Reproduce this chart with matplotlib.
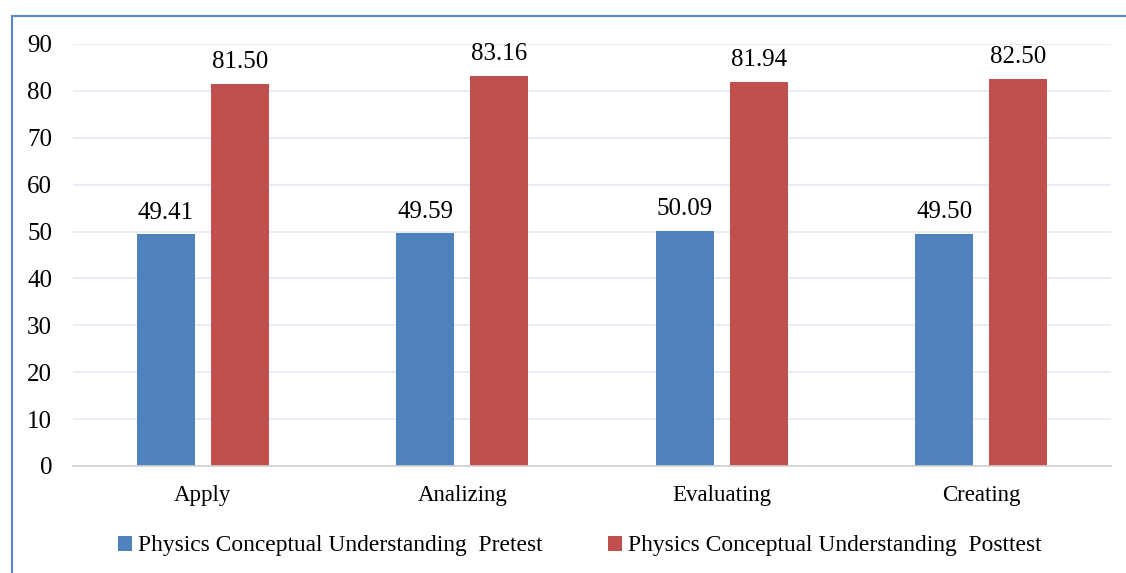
import matplotlib.pyplot as plt
import numpy as np
from matplotlib.patches import Rectangle

plt.rcParams["font.family"] = ["Liberation Serif", "DejaVu Serif"]

categories = ["Apply", "Analizing", "Evaluating", "Creating"]
pretest = [49.41, 49.59, 50.09, 49.50]
posttest = [81.50, 83.16, 81.94, 82.50]
series_names = ["Physics Conceptual Understanding  Pretest",
                "Physics Conceptual Understanding  Posttest"]

BLUE = "#4f81bd"
RED = "#c0504d"
FS = 16.5      # category labels
FS_NUM = 18    # value labels and y ticks
FS_LEG = 16.9

fig = plt.figure(figsize=(11.26, 5.73), dpi=100)
ax = fig.add_axes([73 / 1126, 1 - 466 / 573, (1111 - 73) / 1126, (466 - 44) / 573])

x = np.arange(len(categories))
width = 0.224
off = 0.143
b1 = ax.bar(x - off, pretest, width, color=BLUE, label=series_names[0], zorder=2)
b2 = ax.bar(x + off, posttest, width, color=RED, label=series_names[1], zorder=2)

for bars, vals in ((b1, pretest), (b2, posttest)):
    for rect, v in zip(bars, vals):
        ax.text(rect.get_x() + rect.get_width() / 2, v + 2.3, f"{v:.2f}",
                ha="center", va="bottom", fontsize=FS_NUM)

ax.set_xlim(-0.5, len(categories) - 0.5)
ax.set_ylim(0, 90)
ax.set_yticks(range(0, 91, 10))
ax.set_xticks(x)
ax.set_xticklabels(categories)
ax.tick_params(axis="both", length=0)
ax.tick_params(axis="y", pad=15, labelsize=FS_NUM)
ax.tick_params(axis="x", pad=14, labelsize=FS)
ax.yaxis.grid(True, color="#e3e9f3", linewidth=1.2, zorder=0)
for s in ("top", "right", "left"):
    ax.spines[s].set_visible(False)
ax.spines["bottom"].set_color("#d0d0d0")
ax.spines["bottom"].set_linewidth(1.2)

fig.legend(handles=[b1, b2], loc="center", bbox_to_anchor=(580 / 1126, 1 - 546 / 573),
           ncol=2, frameon=False, fontsize=FS_LEG, handlelength=0.6, handleheight=0.6,
           handletextpad=0.25, columnspacing=2.8)

# outer chart frame, open on the right and bottom
fig.patches.append(Rectangle((11.5 / 1126, -0.05), 1.2, 1 - 15.5 / 573 + 0.05,
                             transform=fig.transFigure, fill=False,
                             edgecolor="#5b87c5", linewidth=1.5))

fig.savefig("out.png", dpi=100)
